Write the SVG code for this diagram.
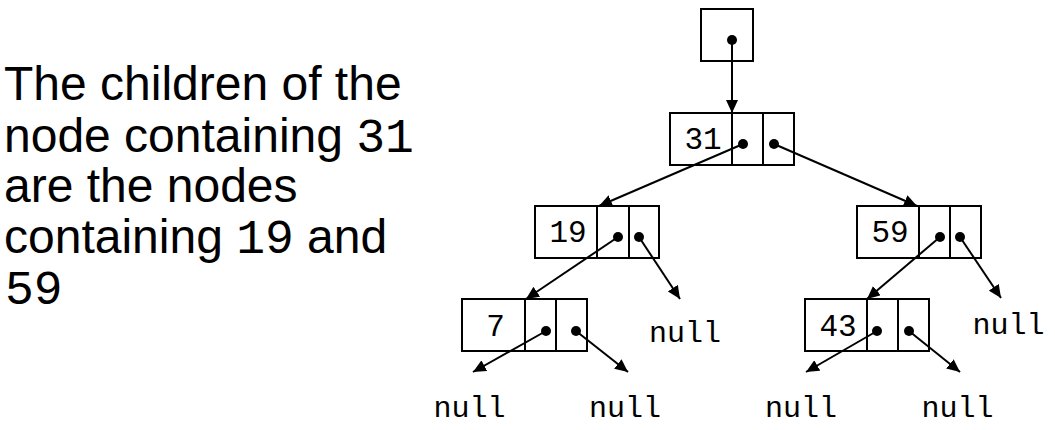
<svg xmlns="http://www.w3.org/2000/svg" width="1055" height="430" viewBox="0 0 1055 430">
<style>
  .box{fill:#fff;stroke:#000;stroke-width:2}
  .div{stroke:#000;stroke-width:2}
  .dot{fill:#000}
  .val{font-family:"Liberation Mono","Courier New",monospace;font-size:31px;fill:#000;text-anchor:middle}
  .nul{font-family:"Liberation Mono","Courier New",monospace;font-size:30px;fill:#000}
  .cap{font-family:"Liberation Sans",Arial,sans-serif;font-size:48px;fill:#000}
  .m{font-family:"Liberation Mono","Courier New",monospace}
  .con line{stroke:#000;stroke-width:2;marker-end:url(#ah)}
</style>
<defs>
  <marker id="ah" markerUnits="userSpaceOnUse" markerWidth="14" markerHeight="12" refX="13" refY="6" orient="auto">
    <path d="M0,0 L13,6 L0,12 Z" fill="#000"/>
  </marker>
</defs>
<rect width="1055" height="430" fill="#fff"/>
<g id="caption">
  <text class="cap" x="4" y="100">The children of the</text>
  <text class="cap" x="4" y="151.7">node containing <tspan class="m">31</tspan></text>
  <text class="cap" x="4" y="201.7">are the nodes</text>
  <text class="cap" x="4" y="253.3">containing <tspan class="m">19</tspan> and</text>
  <text class="cap" x="5" y="304"><tspan class="m">59</tspan></text>
</g>
<g id="root">
  <rect class="box" x="701" y="9" width="52" height="52"/>
</g>
<g id="n31">
  <rect class="box" x="670" y="113" width="124" height="52"/>
  <line class="div" x1="732" y1="113" x2="732" y2="165"/>
  <line class="div" x1="763" y1="113" x2="763" y2="165"/>
  <text class="val" x="703" y="149">31</text>
</g>
<g id="n19">
  <rect class="box" x="535" y="206" width="124" height="52"/>
  <line class="div" x1="597" y1="206" x2="597" y2="258"/>
  <line class="div" x1="629" y1="206" x2="629" y2="258"/>
  <text class="val" x="568" y="242">19</text>
</g>
<g id="n59">
  <rect class="box" x="857" y="206" width="124" height="52"/>
  <line class="div" x1="919" y1="206" x2="919" y2="258"/>
  <line class="div" x1="950" y1="206" x2="950" y2="258"/>
  <text class="val" x="890" y="242">59</text>
</g>
<g id="n7">
  <rect class="box" x="462" y="299" width="125" height="52"/>
  <line class="div" x1="525" y1="299" x2="525" y2="351"/>
  <line class="div" x1="556" y1="299" x2="556" y2="351"/>
  <text class="val" x="495.5" y="335.5">7</text>
</g>
<g id="n43">
  <rect class="box" x="805" y="299" width="124" height="52"/>
  <line class="div" x1="867" y1="299" x2="867" y2="351"/>
  <line class="div" x1="898" y1="299" x2="898" y2="351"/>
  <text class="val" x="838" y="335.5">43</text>
</g>
<g id="nulls">
  <text class="nul" x="649" y="341.5">null</text>
  <text class="nul" x="972.5" y="333.5">null</text>
  <text class="nul" x="433.5" y="417">null</text>
  <text class="nul" x="589" y="417">null</text>
  <text class="nul" x="765" y="417">null</text>
  <text class="nul" x="921.5" y="417">null</text>
</g>
<g id="connectors" class="con">
  <line x1="732" y1="40" x2="732" y2="113"/>
  <line x1="743" y1="144" x2="599" y2="206"/>
  <line x1="774" y1="144" x2="917" y2="206"/>
  <line x1="618" y1="237" x2="526" y2="299"/>
  <line x1="639" y1="237" x2="680" y2="299"/>
  <line x1="940" y1="237" x2="867" y2="299"/>
  <line x1="960" y1="237" x2="1001" y2="298"/>
  <line x1="546" y1="331" x2="473" y2="372"/>
  <line x1="576" y1="331" x2="628" y2="372"/>
  <line x1="877" y1="331" x2="806" y2="372"/>
  <line x1="909" y1="331" x2="960" y2="372"/>
</g>
<g id="dots">
  <circle class="dot" cx="732" cy="40" r="5"/>
  <circle class="dot" cx="743" cy="144" r="5"/>
  <circle class="dot" cx="774" cy="144" r="5"/>
  <circle class="dot" cx="618" cy="237" r="5"/>
  <circle class="dot" cx="639" cy="237" r="5"/>
  <circle class="dot" cx="940" cy="237" r="5"/>
  <circle class="dot" cx="960" cy="237" r="5"/>
  <circle class="dot" cx="546" cy="331" r="5"/>
  <circle class="dot" cx="576" cy="331" r="5"/>
  <circle class="dot" cx="877" cy="331" r="5"/>
  <circle class="dot" cx="909" cy="331" r="5"/>
</g>
</svg>
